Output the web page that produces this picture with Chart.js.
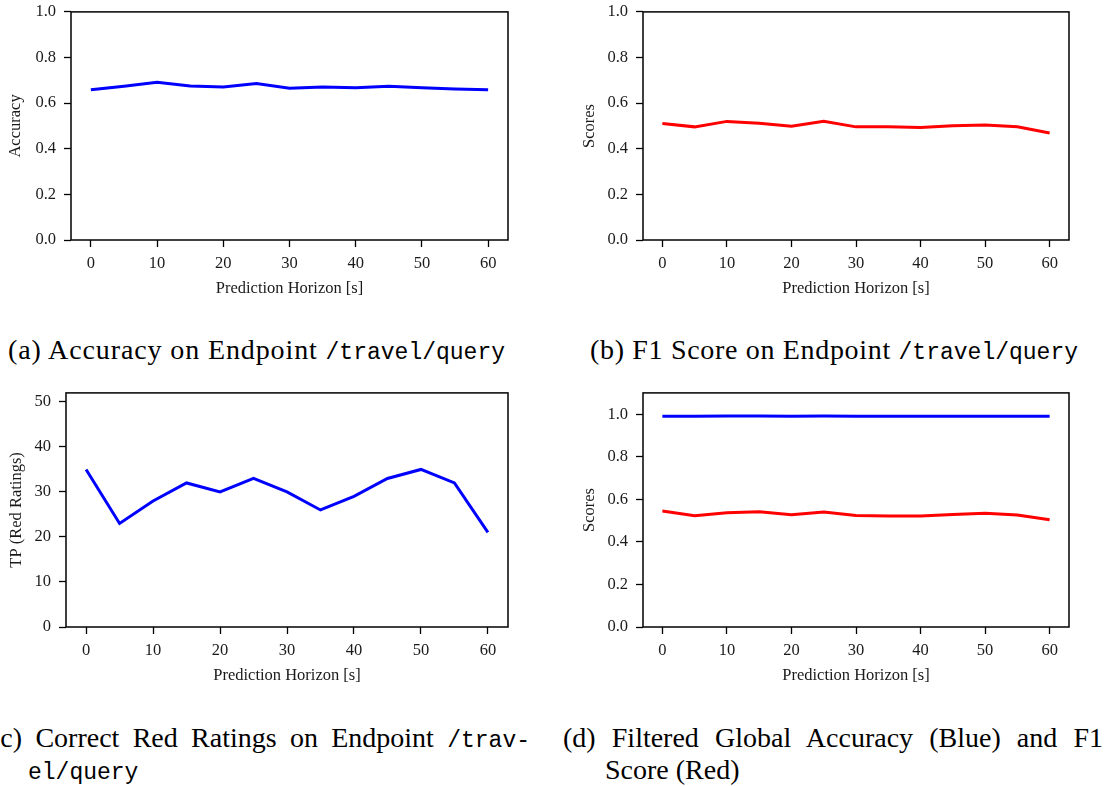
<!DOCTYPE html>
<html>
<head>
<meta charset="utf-8">
<script src="https://cdn.jsdelivr.net/npm/chart.js@4.4.0/dist/chart.umd.min.js"></script>
<style>
  html, body { margin: 0; padding: 0; background: #fff; }
  body { width: 1107px; height: 786px; position: relative; overflow: hidden; }
  canvas { position: absolute; }
  .cap { position: absolute; font-family: "Liberation Serif", serif; font-size: 28px; line-height: 32px; color: #000; white-space: nowrap; }
  .cap code { font-family: "Liberation Mono", monospace; font-size: 23px; }
  .just { white-space: normal; text-align: justify; text-align-last: justify; }
</style>
</head>
<body>
<canvas id="chartA" width="520" height="306" style="left:0;top:-6px"></canvas>
<canvas id="chartB" width="520" height="306" style="left:570px;top:-6px"></canvas>
<canvas id="chartC" width="520" height="312" style="left:0;top:375px"></canvas>
<canvas id="chartD" width="520" height="312" style="left:570px;top:375px"></canvas>

<div class="cap fit" data-w="497" style="left:8px;top:334px"><span class="s">(a) Accuracy on Endpoint </span><code>/travel/query</code></div>
<div class="cap fit" data-w="488" style="left:590px;top:334px"><span class="s">(b) F1 Score on Endpoint </span><code>/travel/query</code></div>
<div class="cap just" style="left:-9px;top:722px;width:539px">(c) Correct Red Ratings on Endpoint <code>/trav-</code></div>
<div class="cap" style="left:28px;top:754px"><code>el/query</code></div>
<div class="cap just" style="left:563px;top:722px;width:540px">(d) Filtered Global Accuracy (Blue) and F1</div>
<div class="cap" style="left:605px;top:754px">Score (Red)</div>

<script>
// Prediction horizons in seconds (shared x values)
const horizons = [0, 5, 10, 15, 20, 25, 30, 35, 40, 45, 50, 55, 60];

// (a) accuracy on /travel/query
const accuracyTravel = [0.659, 0.674, 0.691, 0.675, 0.671, 0.686, 0.665, 0.671, 0.668, 0.674, 0.668, 0.662, 0.659];
// (b) F1 score on /travel/query
const f1Travel = [0.511, 0.496, 0.520, 0.512, 0.499, 0.520, 0.496, 0.496, 0.493, 0.501, 0.504, 0.496, 0.469];
// (c) correctly predicted red ratings (true positives)
const redRatingsTP = [35, 23, 28, 32, 30, 33, 30, 26, 29, 33, 35, 32, 21];
// (d) filtered global accuracy and F1 score
const globalAccuracy = [0.990, 0.990, 0.991, 0.991, 0.990, 0.991, 0.990, 0.990, 0.990, 0.990, 0.990, 0.990, 0.990];
const globalF1 = [0.545, 0.523, 0.537, 0.541, 0.527, 0.540, 0.524, 0.521, 0.521, 0.529, 0.534, 0.526, 0.504];

// Tick positions
const xTicks = [0, 10, 20, 30, 40, 50, 60];
const unitTicks = [0, 0.2, 0.4, 0.6, 0.8, 1.0];
const countTicks = [0, 10, 20, 30, 40, 50];

const BLUE = '#0000ff';
const RED = '#ff0000';
const INK = '#1a1a1a';
const tickFont = { family: '"Liberation Serif", serif', size: 16.5 };

// Full rectangular frame around the plotting area
const framePlugin = {
  id: 'frame',
  afterDraw(chart) {
    const { ctx, chartArea: a } = chart;
    ctx.save();
    ctx.strokeStyle = '#000';
    ctx.lineWidth = 1.5;
    ctx.strokeRect(a.left, a.top, a.right - a.left, a.bottom - a.top);
    ctx.restore();
  }
};

function toPoints(values) {
  return horizons.map((h, i) => ({ x: h, y: values[i] }));
}

function axisGrid() {
  return {
    display: true,
    drawOnChartArea: false,
    drawTicks: true,
    tickLength: 7,
    tickWidth: 1.3,
    tickColor: '#000'
  };
}

function makePanel(id, opts) {
  new Chart(document.getElementById(id), {
    type: 'line',
    data: {
      datasets: opts.series.map(s => ({
        data: toPoints(s.values),
        borderColor: s.color,
        borderWidth: 3,
        pointRadius: 0,
        tension: 0,
        fill: false
      }))
    },
    options: {
      responsive: false,
      animation: false,
      events: [],
      layout: { padding: opts.padding },
      plugins: { legend: { display: false }, tooltip: { enabled: false } },
      scales: {
        x: {
          type: 'linear',
          min: -3,
          max: 63,
          afterBuildTicks: s => { s.ticks = xTicks.map(v => ({ value: v })); },
          afterFit: s => { s.height = opts.xAxisHeight; },
          ticks: { font: tickFont, color: INK, padding: 7, maxRotation: 0, autoSkip: false, callback: v => String(v) },
          grid: axisGrid(),
          border: { display: false },
          title: { display: true, text: 'Prediction Horizon [s]', font: tickFont, color: INK, padding: { top: 0, bottom: 1 } }
        },
        y: {
          type: 'linear',
          min: 0,
          max: opts.yMax,
          afterBuildTicks: s => { s.ticks = opts.yTicks.map(v => ({ value: v })); },
          afterFit: s => { s.width = opts.yAxisWidth; },
          ticks: { font: tickFont, color: INK, padding: 8, callback: v => v.toFixed(opts.decimals) },
          grid: axisGrid(),
          border: { display: false },
          title: { display: true, text: opts.yTitle, font: tickFont, color: INK, padding: { top: opts.yTitlePad, bottom: 0 } }
        }
      }
    },
    plugins: [framePlugin]
  });
}

makePanel('chartA', {
  series: [{ values: accuracyTravel, color: BLUE }],
  yTitle: 'Accuracy', yMax: 1.0, yTicks: unitTicks, decimals: 1,
  yAxisWidth: 71, yTitlePad: 5.4, xAxisHeight: 60,
  padding: { left: 0, top: 5, right: 12, bottom: 0 }
});

makePanel('chartB', {
  series: [{ values: f1Travel, color: RED }],
  yTitle: 'Scores', yMax: 1.0, yTicks: unitTicks, decimals: 1,
  yAxisWidth: 73, yTitlePad: 9.4, xAxisHeight: 60,
  padding: { left: 0, top: 5, right: 21, bottom: 0 }
});

makePanel('chartC', {
  series: [{ values: redRatingsTP, color: BLUE }],
  yTitle: 'TP (Red Ratings)', yMax: 52, yTicks: countTicks, decimals: 0,
  yAxisWidth: 66, yTitlePad: 7, xAxisHeight: 60,
  padding: { left: 0, top: 5, right: 12, bottom: 0 }
});

makePanel('chartD', {
  series: [
    { values: globalAccuracy, color: BLUE },
    { values: globalF1, color: RED }
  ],
  yTitle: 'Scores', yMax: 1.1, yTicks: unitTicks, decimals: 1,
  yAxisWidth: 73, yTitlePad: 9.4, xAxisHeight: 60,
  padding: { left: 0, top: 5, right: 21, bottom: 0 }
});

// Stretch the roman part of single-line captions to their set width
document.querySelectorAll('.cap.fit').forEach(el => {
  const target = parseFloat(el.dataset.w);
  const span = el.querySelector('.s');
  const natural = el.getBoundingClientRect().width;
  const n = span.textContent.length;
  span.style.letterSpacing = ((target - natural) / n) + 'px';
});
</script>
</body>
</html>
